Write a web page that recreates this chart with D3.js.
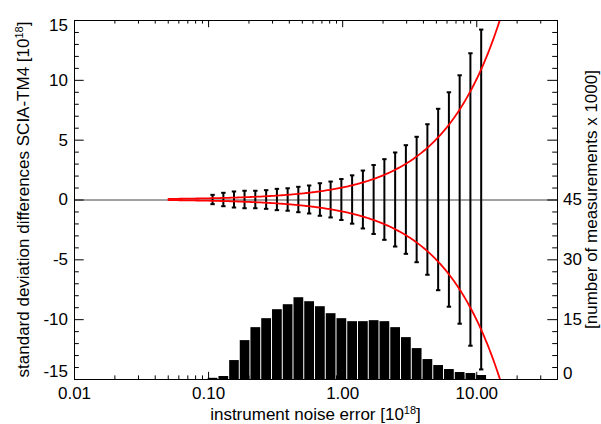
<!DOCTYPE html>
<html>
<head>
<meta charset="utf-8">
<script src="https://cdn.jsdelivr.net/npm/d3@7"></script>
<style>
body{margin:0;background:#fff;}
text{font-family:"Liberation Sans",Arial,Helvetica,sans-serif;fill:#000;}
.axis path,.axis line{stroke:#000;stroke-width:1;}
.axis text{font-size:17px;}
</style>
</head>
<body>
<script>
//wrapping everything in a self executing function
(function(){
//bin centres of the instrument noise error classes [10^18]
var noiseBins = [0.108, 0.130, 0.156, 0.187, 0.225, 0.271, 0.326, 0.392, 0.471, 0.567, 0.682, 0.820, 0.986,
                 1.186, 1.427, 1.716, 2.064, 2.483, 2.986, 3.592, 4.320, 5.196, 6.250, 7.518, 9.042, 10.88];
//standard deviation of the differences SCIA-TM4 per class [10^18]
var stdDiff = [0.39, 0.56, 0.67, 0.73, 0.73, 0.78, 0.89, 0.94, 1.06, 1.17, 1.36, 1.50, 1.71,
               2.02, 2.42, 2.88, 3.37, 3.93, 4.54, 5.24, 6.29, 7.58, 8.96, 10.38, 12.22, 14.20];
//number of measurements per class x 1000
var counts = [0.3, 0.75, 4.75, 9.75, 13, 15.25, 17.5, 18.75, 20.5, 19.5, 18.25, 16.5, 15.25,
              14.5, 14.5, 14.75, 14.5, 13, 10.5, 7.75, 5, 3.5, 2.5, 1.75, 1.5, 1.0];
//tick values and labels
var xTickValues = [0.01, 0.1, 1, 10];
var xTickLabels = ["0.01", "0.10", "1.00", "10.00"];
var leftTickValues = [-15, -10, -5, 0, 5, 10, 15];
var leftTickLabels = ["-15", "-10", "-5", "0", "5", "10", "15"];
var rightTickValues = [0, 15, 30, 45, 60, 75, 90];
var rightTickLabels = ["0", "15", "30", "45", "", "", ""];

window.onload = setChart();

function setChart(){
    //frame dimensions
    var width = 601,
        height = 424,
        left = 74,
        right = 557,
        top = 20,
        bottom = 379;

    var svg = d3.select("body")
        .append("svg")
        .attr("width", width)
        .attr("height", height);

    //scales
    var xScale = d3.scaleLog().domain([0.01, 40]).range([left, right]);
    var yScale = d3.scaleLinear().domain([-15, 15]).range([bottom, top]);
    var nScale = d3.scaleLinear().domain([0, 90]).range([bottom, top]);

    //clip for the curves
    svg.append("clipPath")
        .attr("id", "plotClip")
        .append("rect")
        .attr("x", left)
        .attr("y", top)
        .attr("width", right - left)
        .attr("height", bottom - top);

    //histogram of the number of measurements
    var edges = binEdges(noiseBins);
    svg.selectAll(".bars")
        .data(counts)
        .enter()
        .append("rect")
        .attr("class", "bars")
        .attr("x", function(d, i){ return xScale(edges[i]) + 0.5; })
        .attr("width", function(d, i){ return xScale(edges[i + 1]) - xScale(edges[i]) - 1; })
        .attr("y", function(d){ return nScale(d); })
        .attr("height", function(d){ return nScale(0) - nScale(d); })
        .style("fill", "#000");

    //zero line
    svg.append("line")
        .attr("x1", left)
        .attr("x2", right)
        .attr("y1", yScale(0) + 0.5)
        .attr("y2", yScale(0) + 0.5)
        .style("stroke", "#444")
        .style("stroke-width", 1);

    //error bars
    var bars = svg.selectAll(".errbar")
        .data(noiseBins)
        .enter()
        .append("g")
        .attr("class", "errbar")
        .attr("transform", function(d){ return "translate(" + xScale(d) + ",0)"; });
    bars.append("line")
        .attr("y1", function(d, i){ return yScale(-stdDiff[i]); })
        .attr("y2", function(d, i){ return yScale(stdDiff[i]); })
        .style("stroke", "#000")
        .style("stroke-width", 2);
    [1, -1].forEach(function(s){
        bars.append("line")
            .attr("x1", -2.2)
            .attr("x2", 2.2)
            .attr("y1", function(d, i){ return yScale(s * stdDiff[i]); })
            .attr("y2", function(d, i){ return yScale(s * stdDiff[i]); })
            .style("stroke", "#000")
            .style("stroke-width", 2);
    });

    //one to one reference curves (difference = noise error)
    var refX = d3.range(0, 301).map(function(i){ return 0.05 * Math.pow(40 / 0.05, i / 300); });
    [1, -1].forEach(function(s){
        var line = d3.line()
            .x(function(d){ return xScale(d); })
            .y(function(d){ return yScale(s * d); });
        svg.append("path")
            .datum(refX)
            .attr("d", line)
            .attr("clip-path", "url(#plotClip)")
            .style("fill", "none")
            .style("stroke", "#ff0000")
            .style("stroke-width", 1.8);
    });

    //x axes (ticks pointing inwards)
    var xMinor = xScale.ticks().filter(function(v){
        var l = Math.log10(v);
        return Math.abs(l - Math.round(l)) > 1e-6;
    });
    svg.append("g")
        .attr("class", "axis")
        .attr("transform", "translate(0," + bottom + ")")
        .call(d3.axisBottom(xScale).tickValues(xTickValues).tickSizeInner(-7.2).tickSizeOuter(0)
            .tickPadding(8).tickFormat(function(d, i){ return xTickLabels[i]; }));
    svg.append("g")
        .attr("class", "axis")
        .attr("transform", "translate(0," + bottom + ")")
        .call(d3.axisBottom(xScale).tickValues(xMinor).tickSizeInner(-3.6).tickSizeOuter(0).tickFormat(""));
    svg.append("g")
        .attr("class", "axis")
        .attr("transform", "translate(0," + top + ")")
        .call(d3.axisTop(xScale).tickValues(xTickValues).tickSizeInner(-7.2).tickSizeOuter(0).tickFormat(""));
    svg.append("g")
        .attr("class", "axis")
        .attr("transform", "translate(0," + top + ")")
        .call(d3.axisTop(xScale).tickValues(xMinor).tickSizeInner(-3.6).tickSizeOuter(0).tickFormat(""));

    //left axis
    var yMinor = d3.range(-15, 16, 1).filter(function(v){ return v % 5 != 0; });
    var leftAxis = svg.append("g")
        .attr("class", "axis")
        .attr("transform", "translate(" + left + ",0)")
        .call(d3.axisLeft(yScale).tickValues(leftTickValues).tickSizeInner(-9.7).tickSizeOuter(0).tickPadding(6)
            .tickFormat(function(d, i){ return leftTickLabels[i]; }));
    svg.append("g")
        .attr("class", "axis")
        .attr("transform", "translate(" + left + ",0)")
        .call(d3.axisLeft(yScale).tickValues(yMinor).tickSizeInner(-4.8).tickSizeOuter(0).tickFormat(""));
    //end labels are kept inside the frame
    leftAxis.selectAll(".tick text")
        .attr("dy", function(d){ return d == 15 ? "0.62em" : (d == -15 ? "-0.12em" : "0.32em"); });

    //right axis
    var nMinor = d3.range(0, 91, 3).filter(function(v){ return v % 15 != 0; });
    var rightAxis = svg.append("g")
        .attr("class", "axis")
        .attr("transform", "translate(" + right + ",0)")
        .call(d3.axisRight(nScale).tickValues(rightTickValues).tickSizeInner(-9.7).tickSizeOuter(0).tickPadding(6)
            .tickFormat(function(d, i){ return rightTickLabels[i]; }));
    svg.append("g")
        .attr("class", "axis")
        .attr("transform", "translate(" + right + ",0)")
        .call(d3.axisRight(nScale).tickValues(nMinor).tickSizeInner(-4.8).tickSizeOuter(0).tickFormat(""));
    rightAxis.selectAll(".tick text")
        .attr("dy", function(d){ return d == 0 ? "-0.05em" : "0.32em"; });

    //axis titles
    var xTitle = svg.append("text")
        .attr("x", (left + right) / 2)
        .attr("y", 420)
        .attr("text-anchor", "middle")
        .style("font-size", "17px")
        .text("instrument noise error [10");
    addPower(xTitle);

    var yTitle = svg.append("text")
        .attr("transform", "translate(29," + (top + bottom) / 2 + ") rotate(-90)")
        .attr("text-anchor", "middle")
        .style("font-size", "17px")
        .text("standard deviation differences SCIA-TM4 [10");
    addPower(yTitle);

    svg.append("text")
        .attr("transform", "translate(597," + (top + bottom) / 2 + ") rotate(-90)")
        .attr("text-anchor", "middle")
        .style("font-size", "17px")
        .text("[number of measurements x 1000]");
};//end of setChart

//append the superscript 18 and closing bracket
function addPower(txt){
    txt.append("tspan")
        .attr("dy", -6)
        .style("font-size", "11px")
        .text("18");
    txt.append("tspan")
        .attr("dy", 6)
        .text("]");
};

//bin edges from geometric means of neighbouring centres
function binEdges(centres){
    var edges = [];
    var n = centres.length;
    for (var i=0; i<=n; i++){
        if (i == 0){
            edges.push(centres[0] * Math.sqrt(centres[0] / centres[1]));
        } else if (i == n){
            edges.push(centres[n - 1] * Math.sqrt(centres[n - 1] / centres[n - 2]));
        } else {
            edges.push(Math.sqrt(centres[i - 1] * centres[i]));
        };
    };
    return edges;
};

})();
</script>
</body>
</html>
